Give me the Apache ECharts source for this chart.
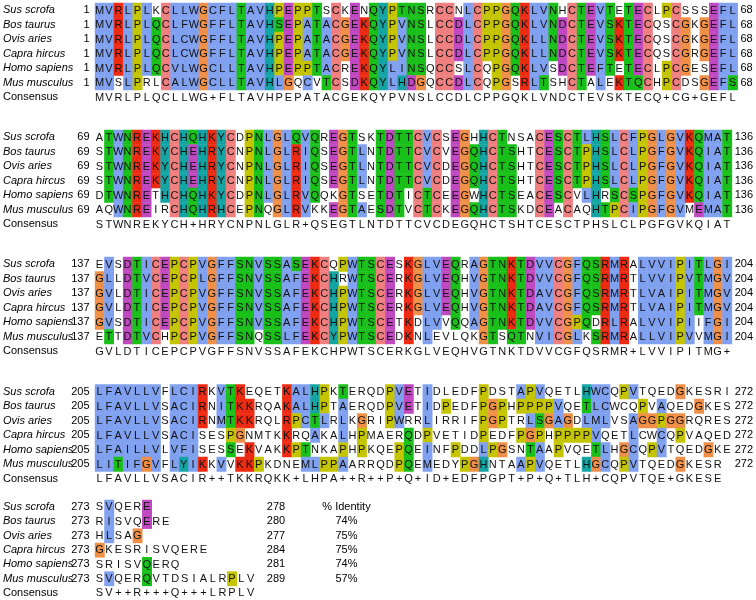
<!DOCTYPE html>
<html>
<head>
<meta charset="utf-8">
<script src="https://cdn.jsdelivr.net/npm/echarts@6/dist/echarts.min.js"></script>
<style>
  html, body { margin: 0; padding: 0; background: #fff; }
  #chart { width: 756px; height: 600px; }
</style>
</head>
<body>
<div id="chart"></div>
<script>
// alignment data, one string per block (68 columns, last block shorter)
const species = ['Sus scrofa', 'Bos taurus', 'Ovis aries', 'Capra hircus', 'Homo sapiens', 'Mus musculus']

const susScrofa = [
  'MVRLPLKCLLWGCFLTAVHPEPPTSCKENQYPTNSRCCNLCPPGQKLVNHCTEVTETECLPCSSSEFL',
  'ATWNREKHCHQHKYCDPNLGLQVQREGTSKTDTTCVCSEGHHCTNSACESCTLHSLCFPGLGVKQMAT',
  'EVSDTICEPCPVGFFSNVSSASEKCQPWTSCESKGLVEQRAGTNKTDVVCGFQSRMRALVVIPITLGI',
  'LFAVLLVFLCIRKVTKEQETKALHPKTERQDPVETIDLEDFPDSTAPVQETLHWCQPVTQEDGKESRI',
  'SVQERE'
]
const bosTaurus = [
  'MVRLPLQCLFWGFFLTAVHSEPATACGEKQYPVNSLCCDLCPPGQKLVNDCTEVSKTECQSCGKGEFL',
  'STWNREKYCHEHRYCNPNLGLRIQSEGTLNTDTTCVCVEGQHCTSHTCESCTPHSLCLPGFGVKQIAT',
  'GLLDTVCEPCPLGFFSNVSSAFEKCHRWTSCERKGLVEQHVGTNKTDVVCGFQSRMRTLVVIPVTMGV',
  'LFAVLLVSACIRNITKKRQAKALHPTAERQDPVETIDPEDFPGPHPPPPVQETLCWCQPVAQEDGKES',
  'RISVQERE'
]
const ovisAries = [
  'MVRLPLQCLCWGFFLTAVHPEPATACGEKQYPVNSLCCDLCPPGQKLLNDCTEVSKTECQSCGKGEFL',
  'STWNREKYCHEHRYCNPNLGLRIQSEGTLNTDTTCVCDEGQHCTSHTCESCTPHSLCLPGFGVKQIAT',
  'GVLDTICEPCPVGFFSNVSSAFEKCHPWTSCERKGLVEQHVGTNKTDAVCGFQSRMRTLVAIPITMGV',
  'LFAVLLVSACIRNMTKKRQLRPCTLRLKGRIPWRRLIRRIFPGPTRLSGAGDLMLVSAGGPGGRQRES',
  'HLSAG'
]
const capraHircus = [
  'MVRLPLQCLCWGFFLTAVHPEPATACGEKQYPVNSLCCDLCPPGQKLLNDCTEVSKTECQSCGRGEFL',
  'STWNREKYCHEHRYCNPNLGLRIQSEGTLNTDTTCVCDEGQHCTSHTCESCTPHSLCLPGFGVKQIAT',
  'GVLDTICEPCPVGFFSNVSSAFEKCHPWTSCERKGLVEQHVGTNKTDAVCGFQSRMRTLVAIPITMGV',
  'LFAVLLVSACISESPGNMTKKRQAKALHPMAERQDPVETIDPEDFPGPHPPPPVQETLCWCQPVAQED',
  'GKESRISVQERE'
]
const homoSapiens = [
  'MVRLPLQCVLWGCLLTAVHPEPPTACREKQYLINSQCCSLCQPGQKLVSDCTEFTETECLPCGESEFL',
  'DTWNRETHCHQHKYCDPNLGLRVQQKGTSETDTICTCEEGWHCTSEACESCVLHRSCSPGFGVKQIAT',
  'GVSDTICEPCPVGFFSNVSSAFEKCHPWTSCETKDLVVQQAGTNKTDVVCGPQDRLRALVVIPIIFGI',
  'LFAILLVLVFISESSEKVAKKPTNKAPHPKQEPQEINFPDDLPGSNTAAPVQETLHGCQPVTQEDGKE',
  'SRISVQERQ'
]
const musMusculus = [
  'MVSLPRLCALWGCLLTAVHLGQCVTCSDKQYLHDGQCCDLCQPGSRLTSHCTALEKTQCHPCDSGEFS',
  'AQWNREIRCHQHRHCEPNQGLRVKKEGTAESDTVCTCKEGQHCTSKDCEACAQHTPCIPGFGVMEMAT',
  'ETTDTVCHPCPVGFFSNQSSLFEKCYPWTSCEDKNLEVLQKGTSQTNVICGLKSRMRALLVIPVVMGI',
  'LITIFGVFLYIKKVVKKPKDNEMLPPAARRQDPQEMEDYPGHNTAAPVQETLHGCQPVTQEDGKESR-',
  'SVQERQVTDSIALRPLV'
]
const consensus = [
  'MVRLPLQCLLWG+FLTAVHPEPATACGEKQYPVNSLCCDLCPPGQKLVNDCTEVSKTECQ+CG+GEFL',
  'STWNREKYCH+HRYCNPNLGLR+QSEGTLNTDTTCVCDEGQHCTSHTCESCTPHSLCLPGFGVKQIAT',
  'GVLDTICEPCPVGFFSNVSSAFEKCHPWTSCERKGLVEQHVGTNKTDVVCGFQSRMR+LVVIPITMG+',
  'LFAVLLVSACIR++TKKRQKK+LHPA++R++P+Q+ID+EDFPGPT+P+Q+TLH+CQPVTQE+GKESE',
  'SV++R+++Q+++LRPLV'
]
const blockStart = [1, 69, 137, 205, 273]
const blockEnd = [68, 136, 204, 272]
const lastEnd = [278, 280, 277, 284, 281, 289]
const identity = ['74%', '75%', '75%', '74%', '57%']

const sequences = [susScrofa, bosTaurus, ovisAries, capraHircus, homoSapiens, musMusculus]

// layout
const FONT = 'Liberation Sans, Arial, sans-serif'
const COL_W = 9.45
const ROW_H = 14.5
const LEFT = 94.8
const BLOCK_TOP = [2.75, 129.75, 256.75, 384.25, 499.75]
const COLS = [68, 68, 68, 68, 17]

const COLOR = {
  blue: '#80a0f0', red: '#ec2b12', magenta: '#c048c0', green: '#1ac01a',
  pink: '#f08080', orange: '#f09048', yellow: '#c4c400', cyan: '#15a4a4'
}

// clustal x style colouring, computed per alignment column
const HYDRO = 'WLVIMAFCYHP'
const fullSeqs = sequences.map(s => s.join(''))

const columnConsensus = (g) => {
  const col = fullSeqs.map(s => s[g] || '-')
  const pct = set => col.filter(ch => set.includes(ch)).length * 100 / col.length
  const c = new Set()
  if (pct(HYDRO) > 60) c.add('%')
  if (pct(HYDRO) > 80) c.add('#')
  if (pct('ED') > 50) c.add('-')
  if (pct('KR') > 60) c.add('+')
  if (pct('G') > 50) c.add('g')
  if (pct('N') > 50) c.add('n')
  if (pct('QE') > 50) c.add('q')
  if (pct('P') > 50) c.add('p')
  if (pct('TS') > 50) c.add('t')
  for (const aa of 'ACDEFGHIKLMNPQRSTVWY') {
    if (pct(aa) > 85) c.add(aa)
  }
  return c
}

const anyOf = (cons, keys) => keys.split('').some(k => cons.has(k))
const HYD_KEYS = '%#ACFHILMVWYPp'

const residueColour = (ch, cons) => {
  switch (ch) {
    case 'G': return COLOR.orange
    case 'P': return COLOR.yellow
    case 'T': return anyOf(cons, 'tST%#') ? COLOR.green : null
    case 'S': return anyOf(cons, 'tST#') ? COLOR.green : null
    case 'N': return anyOf(cons, 'nD') ? COLOR.green : null
    case 'Q': return anyOf(cons, 'qE+KRQ') ? COLOR.green : null
    case 'W': case 'L': case 'V': case 'I': case 'M': case 'F':
      return anyOf(cons, HYD_KEYS) ? COLOR.blue : null
    case 'A': return anyOf(cons, HYD_KEYS + 'TSG') ? COLOR.blue : null
    case 'C':
      if (cons.has('C')) return COLOR.pink
      return anyOf(cons, '%#AFHILMVWYSPp') ? COLOR.blue : null
    case 'H': case 'Y': return anyOf(cons, HYD_KEYS) ? COLOR.cyan : null
    case 'E': return anyOf(cons, '-DEqQ') ? COLOR.magenta : null
    case 'D': return anyOf(cons, '-DEnN') ? COLOR.magenta : null
    case 'K': case 'R': return anyOf(cons, '+KRQ') ? COLOR.red : null
  }
  return null
}

// cells per block
const blockCells = blockStart.map((start, b) => {
  const cells = []
  for (let c = 0; c < COLS[b]; c++) {
    const cons = columnConsensus(b * 68 + c)
    sequences.forEach((seq, r) => {
      const ch = seq[b][c]
      if (!ch || ch === '-') return
      cells.push({ c, r, ch, color: residueColour(ch, cons) })
    })
    const k = consensus[b][c]
    if (k && k !== ' ') cells.push({ c, r: 6, ch: k, color: null })
  }
  return cells
})

const renderCell = (params, api) => {
  const cell = blockCells[params.seriesIndex][params.dataIndex]
  const p = api.coord([api.value(0), api.value(1)])
  const s = api.size([1, 1])
  const children = []
  if (cell.color) {
    children.push({
      type: 'rect',
      shape: { x: p[0] - s[0] / 2, y: p[1] - s[1] / 2, width: s[0] + 0.5, height: s[1] + 0.5 },
      style: { fill: cell.color }
    })
  }
  children.push({
    type: 'text',
    x: p[0],
    y: p[1] + 0.5,
    style: { text: cell.ch, fill: '#111', font: '11px ' + FONT, align: 'center', verticalAlign: 'middle' }
  })
  return { type: 'group', children }
}

const axisBase = {
  type: 'category',
  inverse: true,
  axisLine: { show: false },
  axisTick: { show: false },
  splitLine: { show: false }
}
const labelBase = { interval: 0, color: '#000', fontFamily: FONT, fontSize: 11 }

const grids = []
const xAxes = []
const yAxes = []
const series = []

blockStart.forEach((start, b) => {
  const nCols = COLS[b]
  const width = nCols * COL_W
  grids.push({ left: LEFT, top: BLOCK_TOP[b], width, height: 7 * ROW_H })
  xAxes.push({
    type: 'category', gridIndex: b, show: false,
    data: Array.from({ length: nCols }, (_, i) => String(start + i))
  })

  const nameAxis = yAxes.length
  yAxes.push({
    ...axisBase, gridIndex: b, position: 'left',
    data: [...species, 'Consensus'],
    axisLabel: {
      ...labelBase, align: 'left', margin: LEFT - 3,
      formatter: v => (v === 'Consensus' ? '{c|' + v + '}' : '{s|' + v + '}'),
      rich: {
        s: { fontStyle: 'italic', fontFamily: FONT, fontSize: 11, color: '#000' },
        c: { fontFamily: FONT, fontSize: 11, color: '#000' }
      }
    }
  })
  yAxes.push({
    ...axisBase, gridIndex: b, position: 'left',
    data: [...species.map(() => String(start)), ''],
    axisLabel: { ...labelBase, align: 'right', margin: LEFT - 89.5 }
  })
  const ends = b < 4 ? species.map(() => String(blockEnd[b])) : lastEnd.map(String)
  yAxes.push({
    ...axisBase, gridIndex: b, position: 'right',
    data: [...ends, ''],
    axisLabel: { ...labelBase, align: 'left', margin: b < 4 ? 3 : 266.8 - (LEFT + width) }
  })
  if (b === 4) {
    yAxes.push({
      ...axisBase, gridIndex: b, position: 'right',
      data: ['% Identity', ...identity, ''],
      axisLabel: { ...labelBase, align: 'center', margin: 346.5 - (LEFT + width) }
    })
  }

  series.push({
    type: 'custom',
    xAxisIndex: b,
    yAxisIndex: nameAxis,
    clip: false,
    silent: true,
    data: blockCells[b].map(d => [d.c, d.r]),
    renderItem: renderCell
  })
})

const chart = echarts.init(document.getElementById('chart'), null, { renderer: 'canvas' })
chart.setOption({
  backgroundColor: '#fff',
  animation: false,
  grid: grids,
  xAxis: xAxes,
  yAxis: yAxes,
  series
})
window.addEventListener('resize', () => chart.resize())
</script>
</body>
</html>
